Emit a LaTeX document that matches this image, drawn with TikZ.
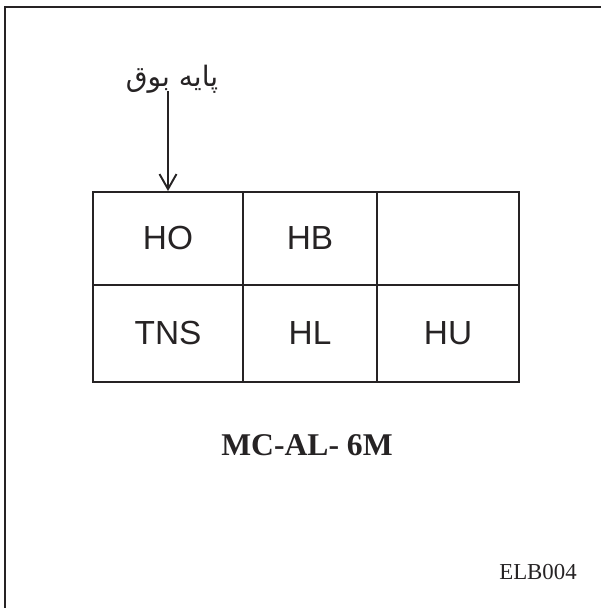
\documentclass[tikz,border=0pt]{standalone}
\usepackage{fontspec}
\setmainfont{Liberation Serif}
\newfontfamily\cellfont{Liberation Sans}
\newfontfamily\farsifont[Script=Arabic]{DejaVu Sans}
\TeXXeTstate=1
\usepackage{tikz}
\usetikzlibrary{positioning, arrows.meta}
\definecolor{ink}{RGB}{38,35,36}

\begin{document}
\begin{tikzpicture}[
    cell/.style={rectangle, draw=ink, line width=1.1pt, inner sep=0pt,
                 minimum height=1.9cm, text=ink, font=\cellfont\fontsize{19}{22}\selectfont},
    frame/.style={draw=ink, line width=1.5pt},
    arrow/.style={-{Straight Barb[length=3mm, width=3.4mm]}, line width=1.1pt, draw=ink}
]
    % === Page area ===
    \useasboundingbox (0, 0) rectangle (12.02, -12.16);
    \clip (0, 0) rectangle (12.02, -12.16);
    \draw[frame] (0.10, -0.14) rectangle (12.5, -12.6);

    % === Connector table ===
    \node[cell, minimum width=3.00cm, minimum height=1.86cm] (ho)    at (3.36, -4.77) {HO};
    \node[cell, minimum width=2.68cm, minimum height=1.86cm] (hb)    at (6.20, -4.77) {HB};
    \node[cell, minimum width=2.84cm, minimum height=1.86cm] (blank) at (8.96, -4.77) {};
    \node[cell, minimum width=3.00cm, minimum height=1.94cm] (tns)   at (3.36, -6.67) {TNS};
    \node[cell, minimum width=2.68cm, minimum height=1.94cm] (hl)    at (6.20, -6.67) {HL};
    \node[cell, minimum width=2.84cm, minimum height=1.94cm] (hu)    at (8.96, -6.67) {HU};

    % === Horn pin label ===
    \node[anchor=base, inner sep=0pt, text=ink, font=\farsifont\fontsize{16}{18}\selectfont]
        (horn) at (3.44, -1.74) {\beginR پایه بوق\endR};
    \draw[arrow] ([yshift=-0.08cm]ho.north |- horn.base) -- (ho.north);

    % === Captions ===
    \node[text=ink, font=\bfseries\fontsize{18}{21}\selectfont] (model) at (6.14, -8.90) {MC-AL- 6M};
    \node[text=ink, font=\fontsize{13}{15}\selectfont] (code) at (10.76, -11.44) {ELB004};
\end{tikzpicture}
\end{document}
